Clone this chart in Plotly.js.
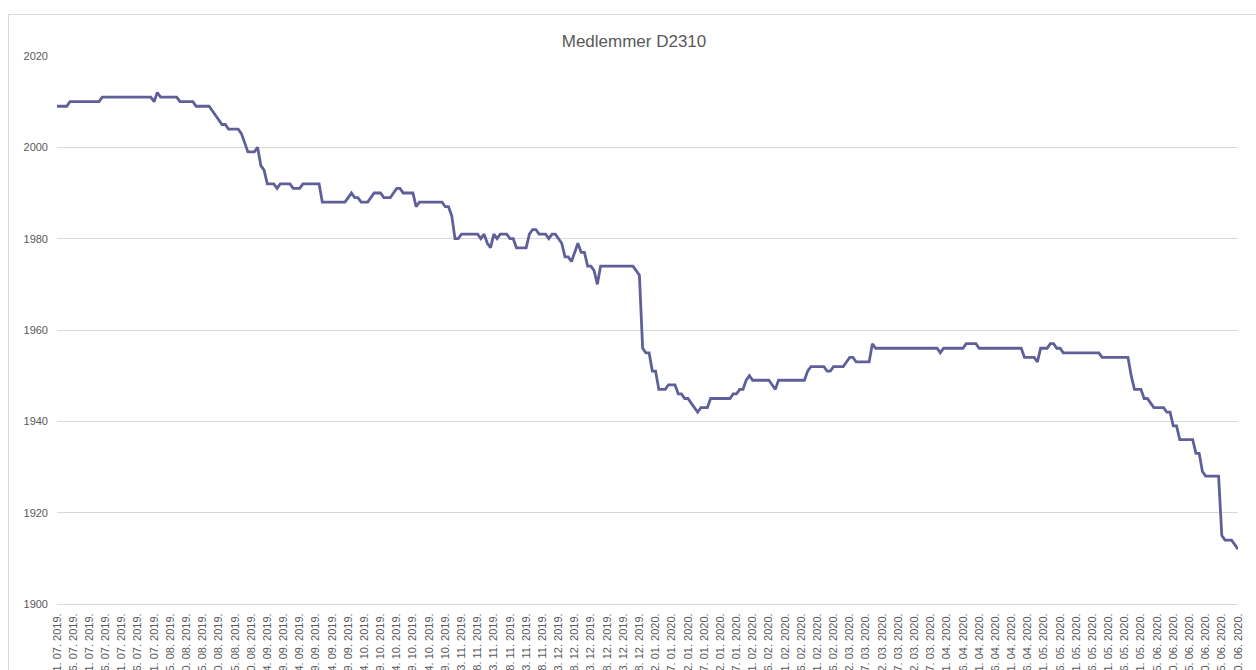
<!DOCTYPE html>
<html>
<head>
<meta charset="utf-8">
<script src="https://cdn.plot.ly/plotly-3.0.1.min.js"></script>
<style>
  html, body { margin: 0; padding: 0; background: #ffffff; overflow: hidden; }
  #wrap { position: relative; width: 1256px; height: 670px; }
  #chart { position: absolute; left: 0; top: 0; width: 1256px; height: 670px; }
  #frame { position: absolute; left: 8px; top: 14px; width: 1300px; height: 720px;
           border: 1px solid #d9d9d9; pointer-events: none; }
</style>
</head>
<body>
<div id="wrap">
  <div id="frame"></div>
  <div id="chart"></div>
</div>
<script>
// Daily member counts, 01.07.2019 - 30.06.2020 (one array per month)
var jul2019 = [2009,2009,2009,2009,2010,2010,2010,2010,2010,2010,2010,2010,2010,2010,2011,2011,2011,2011,2011,2011,2011,2011,2011,2011,2011,2011,2011,2011,2011,2011,2010];
var aug2019 = [2012,2011,2011,2011,2011,2011,2011,2010,2010,2010,2010,2010,2009,2009,2009,2009,2009,2008,2007,2006,2005,2005,2004,2004,2004,2004,2003,2001,1999,1999,1999];
var sep2019 = [2000,1996,1995,1992,1992,1992,1991,1992,1992,1992,1992,1991,1991,1991,1992,1992,1992,1992,1992,1992,1988,1988,1988,1988,1988,1988,1988,1988,1989,1990];
var oct2019 = [1989,1989,1988,1988,1988,1989,1990,1990,1990,1989,1989,1989,1990,1991,1991,1990,1990,1990,1990,1987,1988,1988,1988,1988,1988,1988,1988,1988,1987,1987,1985];
var nov2019 = [1980,1980,1981,1981,1981,1981,1981,1981,1980,1981,1979,1978,1981,1980,1981,1981,1981,1980,1980,1978,1978,1978,1978,1981,1982,1982,1981,1981,1981,1980];
var dec2019 = [1981,1981,1980,1979,1976,1976,1975,1977,1979,1977,1977,1974,1974,1973,1970,1974,1974,1974,1974,1974,1974,1974,1974,1974,1974,1974,1973,1972,1956,1955,1955];
var jan2020 = [1951,1951,1947,1947,1947,1948,1948,1948,1946,1946,1945,1945,1944,1943,1942,1943,1943,1943,1945,1945,1945,1945,1945,1945,1945,1946,1946,1947,1947,1949,1950];
var feb2020 = [1949,1949,1949,1949,1949,1949,1948,1947,1949,1949,1949,1949,1949,1949,1949,1949,1949,1951,1952,1952,1952,1952,1952,1951,1951,1952,1952,1952,1952];
var mar2020 = [1953,1954,1954,1953,1953,1953,1953,1953,1957,1956,1956,1956,1956,1956,1956,1956,1956,1956,1956,1956,1956,1956,1956,1956,1956,1956,1956,1956,1956,1955,1956];
var apr2020 = [1956,1956,1956,1956,1956,1956,1957,1957,1957,1957,1956,1956,1956,1956,1956,1956,1956,1956,1956,1956,1956,1956,1956,1956,1954,1954,1954,1954,1953,1956];
var may2020 = [1956,1956,1957,1957,1956,1956,1955,1955,1955,1955,1955,1955,1955,1955,1955,1955,1955,1955,1954,1954,1954,1954,1954,1954,1954,1954,1954,1950,1947,1947,1947];
var jun2020 = [1945,1945,1944,1943,1943,1943,1943,1942,1942,1939,1939,1936,1936,1936,1936,1936,1933,1933,1929,1928,1928,1928,1928,1928,1915,1914,1914,1914,1913,1912];

var chartTitle = "Medlemmer D2310";
var startYear = 2019, startMonth = 6; // July (0-based)
var tickEvery = 5;                    // one axis label every 5th day

var values = [].concat(jul2019, aug2019, sep2019, oct2019, nov2019, dec2019,
                       jan2020, feb2020, mar2020, apr2020, may2020, jun2020);

function pad(n) { return (n < 10 ? "0" : "") + n; }
var dates = [];
for (var i = 0; i < values.length; i++) {
  var d = new Date(startYear, startMonth, 1 + i);
  dates.push(pad(d.getDate()) + ". " + pad(d.getMonth() + 1) + ". " + d.getFullYear() + ".");
}
var tickDates = dates.filter(function (_, i) { return i % tickEvery === 0; });

var textColor = "#595959";
var fontFam = "Liberation Sans, Arial, sans-serif";

var trace = {
  type: "scatter",
  mode: "lines",
  x: dates,
  y: values,
  line: { color: "#5f5f99", width: 2.8 },
  hoverinfo: "x+y"
};

var layout = {
  width: 1256,
  height: 670,
  margin: { l: 57, r: 18, t: 56, b: 66, pad: 0 },
  paper_bgcolor: "rgba(0,0,0,0)",
  plot_bgcolor: "#ffffff",
  showlegend: false,
  title: {
    text: chartTitle,
    font: { family: fontFam, size: 17, color: textColor },
    xref: "container", yref: "container",
    x: 634 / 1256, xanchor: "center",
    y: 1 - 41 / 670, yanchor: "middle"
  },
  xaxis: {
    type: "category",
    range: [0, values.length - 1],
    tickmode: "array",
    tickvals: tickDates,
    ticktext: tickDates,
    tickangle: -90,
    ticks: "",
    showgrid: false,
    zeroline: false,
    showline: true,
    linecolor: "#d9d9d9",
    linewidth: 1,
    automargin: false,
    ticklabelstandoff: 4,
    tickfont: { family: fontFam, size: 11, color: textColor },
    fixedrange: true
  },
  yaxis: {
    range: [1900, 2020],
    tickmode: "linear",
    tick0: 1900,
    dtick: 20,
    ticks: "",
    showgrid: true,
    gridcolor: "#d9d9d9",
    gridwidth: 1,
    zeroline: false,
    showline: false,
    automargin: false,
    ticklabelstandoff: 8,
    tickfont: { family: fontFam, size: 11, color: textColor },
    fixedrange: true
  }
};

Plotly.newPlot("chart", [trace], layout, { displayModeBar: false, staticPlot: true });
</script>
</body>
</html>
